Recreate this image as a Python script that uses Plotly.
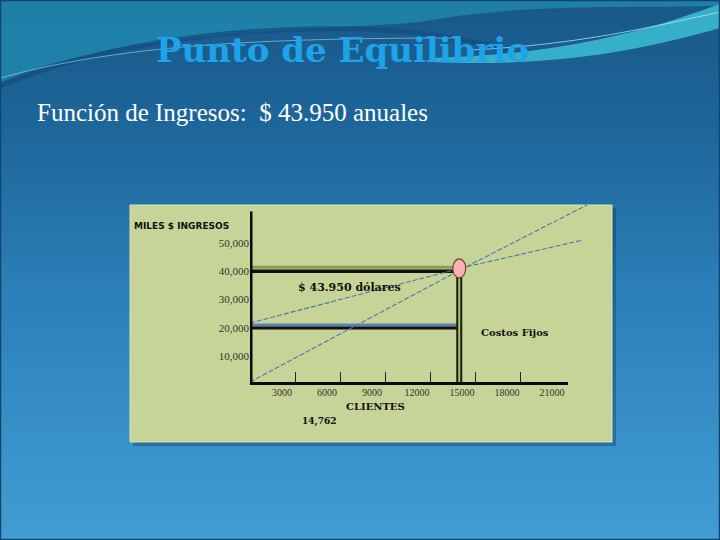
import plotly.graph_objects as go

# ---------------- data ----------------
x_tick_values = [3000, 6000, 9000, 12000, 15000, 18000, 21000]
x_tick_labels = ["3000", "6000", "9000", "12000", "15000", "18000", "21000"]
x_tick_marks = [3000, 6000, 9000, 12000, 15000, 18000]
y_tick_values = [10000, 20000, 30000, 40000, 50000]
y_tick_labels = ["10,000", "20,000", "30,000", "40,000", "50,000"]

revenue_x = [0, 14400, 22470]
revenue_y = [1050, 41500, 63250]
cost_x = [0, 14400, 22200]
cost_y = [21800, 41500, 50950]

breakeven_clients = 13950
breakeven_income = 41000
income_level = 40000
income_shade = 41400
fixed_cost_level = 20000
fixed_cost_shade = 21100
axis_x_end = 21200
axis_y_end = 61000
x_range = [0, 23000]
y_range = [0, 65000]

# ---------------- geometry helpers (pixel -> paper) ----------------
W, H = 720, 540
PL, PR, PT, PB = 250, 595, 200, 385
PW, PH = PR - PL, PB - PT


def px(x):
    return (x - PL) / PW


def py(y):
    return (PB - y) / PH


def lerp_color(stops, t):
    for i in range(len(stops) - 1):
        t0, c0 = stops[i]
        t1, c1 = stops[i + 1]
        if t0 <= t <= t1:
            f = (t - t0) / (t1 - t0) if t1 > t0 else 0
            c = [round(c0[k] + (c1[k] - c0[k]) * f) for k in range(3)]
            return "rgb(%d,%d,%d)" % tuple(c)
    c = stops[-1][1]
    return "rgb(%d,%d,%d)" % tuple(c)


shapes = []

# slide background gradient (decoration)
bg_stops = [(0, (24, 88, 136)), (140, (30, 104, 156)), (300, (44, 128, 186)), (540, (66, 157, 211))]
step = 6
for y in range(0, H, step):
    shapes.append(dict(type="rect", xref="paper", yref="paper",
                       x0=px(0), x1=px(W), y0=py(y + step + 0.5), y1=py(y),
                       fillcolor=lerp_color(bg_stops, y + step / 2), line=dict(width=0), layer="below"))


def path_px(cmds):
    out = []
    for c in cmds:
        if isinstance(c, str):
            out.append(c)
        else:
            out.append("%.4f,%.4f" % (px(c[0]), py(c[1])))
    return " ".join(out)


# decorative swooshes at top
shapes.append(dict(type="path", xref="paper", yref="paper", layer="below",
                   path=path_px(["M", (0, 0), "L", (720, 0), "L", (720, 6), "C", (600, 8), (520, 4), (420, 22),
                                 "C", (300, 32), (120, 30), (0, 82), "Z"]),
                   fillcolor="rgba(34,140,178,0.75)", line=dict(width=0)))
shapes.append(dict(type="path", xref="paper", yref="paper", layer="below",
                   path=path_px(["M", (0, 86), "C", (110, 40), (260, 24), (380, 30),
                                 "C", (450, 34), (480, 42), (520, 55)]),
                   line=dict(color="rgba(20,80,130,0.8)", width=5)))
shapes.append(dict(type="path", xref="paper", yref="paper", layer="below",
                   path=path_px(["M", (430, 58), "C", (560, 55), (650, 30), (720, 4), "L", (720, 28),
                                 "C", (650, 48), (560, 68), (430, 62), "Z"]),
                   fillcolor="rgba(60,190,210,0.85)", line=dict(width=0)))
shapes.append(dict(type="path", xref="paper", yref="paper", layer="below",
                   path=path_px(["M", (0, 78), "C", (120, 45), (260, 38), (460, 38)]),
                   line=dict(color="rgba(150,220,235,0.6)", width=1)))
shapes.append(dict(type="path", xref="paper", yref="paper", layer="below",
                   path=path_px(["M", (470, 50), "C", (580, 45), (660, 25), (720, 12)]),
                   line=dict(color="rgba(190,240,245,0.7)", width=1)))

# slide border
shapes.append(dict(type="rect", xref="paper", yref="paper", layer="below",
                   x0=px(0.5), x1=px(719.5), y0=py(539.5), y1=py(0.5),
                   line=dict(color="#12466c", width=1.5), fillcolor="rgba(0,0,0,0)"))

# chart panel shadow + panel
shapes.append(dict(type="rect", xref="paper", yref="paper", layer="below",
                   x0=px(133), x1=px(616), y0=py(446), y1=py(208),
                   fillcolor="rgba(15,50,85,0.35)", line=dict(width=0)))
shapes.append(dict(type="rect", xref="paper", yref="paper", layer="below",
                   x0=px(130), x1=px(612), y0=py(442), y1=py(205),
                   fillcolor="#c6d597", line=dict(color="#dbe3ae", width=1)))

# axis lines
shapes.append(dict(type="line", xref="x", yref="y", layer="above",
                   x0=0, x1=0, y0=0, y1=axis_y_end, line=dict(color="#0a0a0a", width=5)))
shapes.append(dict(type="line", xref="x", yref="y", layer="above",
                   x0=-150, x1=axis_x_end, y0=0, y1=0, line=dict(color="#0a0a0a", width=6)))

# break-even ellipse
shapes.append(dict(type="circle", xref="x", yref="y", layer="above",
                   xsizemode="pixel", ysizemode="pixel",
                   xanchor=breakeven_clients, yanchor=breakeven_income,
                   x0=-6.5, x1=6.5, y0=-9.5, y1=9.5,
                   fillcolor="#f6b2b4", line=dict(color="#7a3a2c", width=1.2)))

fig = go.Figure()

# income level (olive shade + black)
fig.add_trace(go.Scatter(x=[0, breakeven_clients], y=[income_shade, income_shade], mode="lines",
                         line=dict(color="#8e9c5a", width=3), hoverinfo="skip", showlegend=False))
fig.add_trace(go.Scatter(x=[0, breakeven_clients], y=[income_level, income_level], mode="lines",
                         line=dict(color="#111111", width=3.5), hoverinfo="skip", showlegend=False))
# fixed costs (blue + black)
fig.add_trace(go.Scatter(x=[-180, breakeven_clients], y=[fixed_cost_shade, fixed_cost_shade], mode="lines",
                         line=dict(color="#5a82b8", width=3), hoverinfo="skip", showlegend=False))
fig.add_trace(go.Scatter(x=[0, breakeven_clients], y=[fixed_cost_level, fixed_cost_level], mode="lines",
                         line=dict(color="#111111", width=3), hoverinfo="skip", showlegend=False))
# break-even vertical (double line)
fig.add_trace(go.Scatter(x=[breakeven_clients, breakeven_clients], y=[0, income_level], mode="lines",
                         line=dict(color="#1a1f0c", width=6), hoverinfo="skip", showlegend=False))
fig.add_trace(go.Scatter(x=[breakeven_clients, breakeven_clients], y=[0, income_level], mode="lines",
                         xaxis="x2",
                         line=dict(color="#aebf7c", width=2), hoverinfo="skip", showlegend=False))
# cost and revenue lines
fig.add_trace(go.Scatter(x=cost_x, y=cost_y, mode="lines",
                         line=dict(color="#4d76ad", width=1.1, dash="5px,2px"), hoverinfo="skip", showlegend=False))
fig.add_trace(go.Scatter(x=revenue_x, y=revenue_y, mode="lines",
                         line=dict(color="#4d76ad", width=1.1, dash="5px,2px"), hoverinfo="skip", showlegend=False))

bold_serif = "DejaVu Serif"
annotations = [
    dict(text="<b>Punto de Equilibrio</b>", xref="paper", yref="paper", x=px(342), y=py(50),
         showarrow=False, font=dict(family="DejaVu Serif", size=34, color="#1ea2e8"),
         xanchor="center", yanchor="middle"),
    dict(text="Función de Ingresos:  $ 43.950 anuales", xref="paper", yref="paper", x=px(35), y=py(113),
         showarrow=False, font=dict(family="Liberation Serif", size=25, color="#ffffff"),
         xanchor="left", yanchor="middle"),
    dict(text="<b>MILES $ INGRESOS</b>", xref="paper", yref="paper", x=px(132), y=py(226),
         showarrow=False, font=dict(family="DejaVu Sans", size=9, color="#111111"),
         xanchor="left", yanchor="middle"),
    dict(text="<b>$ 43.950 dólares</b>", xref="paper", yref="paper", x=px(349), y=py(287),
         showarrow=False, font=dict(family=bold_serif, size=11, color="#111111"),
         xanchor="center", yanchor="middle"),
    dict(text="<b>Costos Fijos</b>", xref="paper", yref="paper", x=px(515), y=py(332),
         showarrow=False, font=dict(family=bold_serif, size=10, color="#111111"),
         xanchor="center", yanchor="middle"),
    dict(text="<b>CLIENTES</b>", xref="paper", yref="paper", x=px(375), y=py(406),
         showarrow=False, font=dict(family=bold_serif, size=10, color="#111111"),
         xanchor="center", yanchor="middle"),
    dict(text="<b>14,762</b>", xref="paper", yref="paper", x=px(319), y=py(421),
         showarrow=False, font=dict(family=bold_serif, size=9, color="#111111"),
         xanchor="center", yanchor="middle"),
]

fig.update_layout(
    width=W, height=H,
    margin=dict(l=PL, r=W - PR, t=PT, b=H - PB, pad=0),
    paper_bgcolor="#2a7ab5",
    plot_bgcolor="rgba(0,0,0,0)",
    shapes=shapes,
    annotations=annotations,
    showlegend=False,
    xaxis=dict(range=x_range, tickmode="array", tickvals=x_tick_values, ticktext=x_tick_labels,
               ticks="", ticklabelshift=-13,
               tickfont=dict(family="Liberation Serif", size=10, color="#333333"),
               showgrid=False, zeroline=False, showline=False, fixedrange=True),
    xaxis2=dict(range=x_range, overlaying="x", matches="x", side="bottom", anchor="y",
                tickmode="array", tickvals=x_tick_marks, showticklabels=False,
                ticks="inside", ticklen=13, tickwidth=1, tickcolor="#222222",
                showgrid=False, zeroline=False, showline=False, fixedrange=True),
    yaxis=dict(range=y_range, tickmode="array", tickvals=y_tick_values, ticktext=y_tick_labels,
               ticks="", tickfont=dict(family="Liberation Serif", size=11, color="#333333"),
               showgrid=False, zeroline=False, showline=False, fixedrange=True),
)

fig.write_html("out.html", config={"displayModeBar": False},
               post_script="document.body.style.margin='0';document.body.style.overflow='hidden';")
